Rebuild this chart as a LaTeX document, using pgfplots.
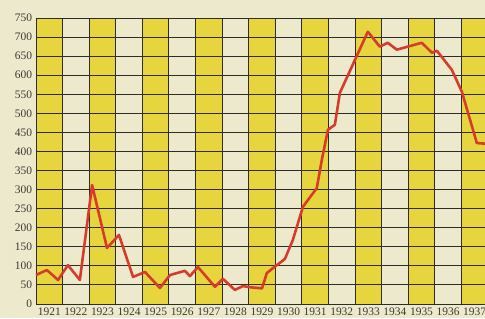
\documentclass[border=0pt]{standalone}
\usepackage{pgfplots}
\pgfplotsset{compat=1.18}
\usepackage{fontspec}
\setmainfont{Liberation Serif}
\definecolor{paper}{RGB}{236,233,205}
\definecolor{pale}{RGB}{228,224,176}
\definecolor{yel}{RGB}{230,213,60}
\definecolor{gridc}{RGB}{45,45,35}
\definecolor{redl}{RGB}{214,60,44}
\definecolor{txt}{RGB}{60,58,50}
\begin{document}
\begin{tikzpicture}[x=1bp,y=1bp]
\fill[paper] (0,0) rectangle (485,318);
\begin{axis}[
  at={(36bp,14bp)}, anchor=south west,
  scale only axis, width=452bp, height=286bp,
  xmin=1920.5, xmax=1937.5, ymin=0, ymax=750,
  set layers, axis on top,
  axis background/.style={fill=pale},
  xtick={1921,...,1937},
  xticklabel={\pgfmathprintnumber[fixed,precision=0,1000 sep={}]{\tick}},
  minor xtick={1920.5,1921.5,...,1937.5},
  ytick={0,50,...,750},
  /pgf/number format/assume math mode=true,
  /pgf/number format/1000 sep={},
  major tick length=0pt, minor tick length=0pt,
  ymajorgrids, xminorgrids,
  grid style={gridc, line width=0.9pt},
  minor grid style={gridc, line width=0.9pt},
  axis line style={gridc, line width=0.9pt},
  tick label style={font=\fontsize{11.5}{12}\selectfont, text=txt},
  yticklabel style={xshift=-0.5bp},
  xticklabel style={yshift=-0.5bp},
  clip=true,
]
\addplot[ybar interval, fill=yel, draw=none, forget plot] coordinates {
(1920.5,750) (1921.5,0) (1922.5,750) (1923.5,0) (1924.5,750) (1925.5,0)
(1926.5,750) (1927.5,0) (1928.5,750) (1929.5,0) (1930.5,750) (1931.5,0)
(1932.5,750) (1933.5,0) (1934.5,750) (1935.5,0) (1936.5,750) (1937.5,0)
};
\pgfonlayer{axis foreground}
\addplot[redl, line width=2.6pt, line join=round, mark=none] coordinates {
(1920.50,76) (1920.91,89) (1921.33,63) (1921.70,102) (1922.15,63)
(1922.61,312) (1923.17,147) (1923.62,181) (1924.15,71) (1924.60,84)
(1925.16,42) (1925.54,76) (1926.10,87) (1926.29,73) (1926.59,97)
(1927.23,45) (1927.53,66) (1927.98,37) (1928.28,47) (1928.55,44)
(1929.00,41) (1929.18,81) (1929.41,94) (1929.86,118) (1930.16,168)
(1930.54,255) (1931.06,304) (1931.25,378) (1931.48,457) (1931.74,470)
(1931.93,554) (1932.98,714) (1933.43,675) (1933.73,685) (1934.07,667)
(1935.01,685) (1935.39,659) (1935.58,664) (1936.14,614) (1936.52,556)
(1937.08,422) (1937.50,420)
};
\endpgfonlayer
\end{axis}
\pgfresetboundingbox
\useasboundingbox (0,0) rectangle (485,318);
\end{tikzpicture}
\end{document}
